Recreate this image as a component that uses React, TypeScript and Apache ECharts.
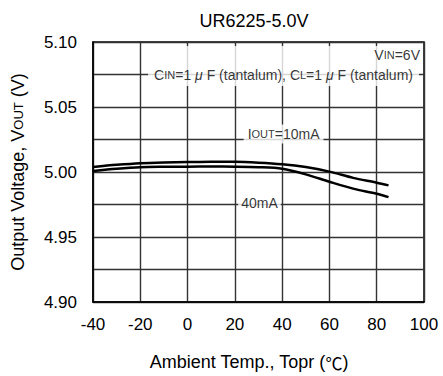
import React, { useEffect, useRef } from "react";
import * as echarts from "echarts";

// Ambient temperature (°C)
const tempC = [-40, -30, -20, -10, 0, 10, 20, 30, 40, 50, 60, 70, 80, 85];
// Output voltage (V) at IOUT = 10 mA
const vout10mA = [5.0038, 5.0055, 5.0068, 5.0074, 5.0077, 5.0078, 5.0078, 5.0072, 5.006, 5.0038, 5.0003, 4.9955, 4.9918, 4.9897];
// Output voltage (V) at IOUT = 40 mA
const vout40mA = [5.0008, 5.0025, 5.0037, 5.004, 5.0041, 5.0042, 5.0041, 5.0037, 5.0025, 4.9982, 4.9925, 4.9872, 4.9833, 4.9807];

const titleText = "UR6225-5.0V";
const xAxisName = "{a|Ambient Temp., Topr (}{c|℃}{a|)}";
const yAxisName = "{a|Output Voltage, V}{s|OUT}{a| (V)}";

const annoText = [
  "{a|C}{s|IN}{a|=1 }{m|μ}{a| F (tantalum), C}{s|L}{a|=1 }{m|μ}{a| F (tantalum)}",
  "{a|V}{s|IN}{a|=6V}",
  "{a|I}{s|OUT}{a|=10mA}",
  "{a|40mA}",
];
const annoX = [40.6, 98.3, 40.6, 30.4];
const annoY = [5.0815, 5.09, 5.0292, 4.9762];

const FONT = "'Liberation Sans', Arial, sans-serif";
const CJK = "'Noto Sans CJK JP', sans-serif";

const rich = {
  a: { fontSize: 14, fontFamily: FONT, color: "#000" },
  s: { fontSize: 11, fontFamily: FONT, color: "#000" },
  m: { fontSize: 14, fontFamily: FONT, color: "#000", fontStyle: "italic" as const },
};

export default function App() {
  const ref = useRef<HTMLDivElement>(null);
  useEffect(() => {
    if (!ref.current) return;
    const chart = echarts.init(ref.current, null, { renderer: "svg" });
    const paddings = [
      [22, 6, 4, 6],
      [0, 0, 0, 0],
      [2, 4, 3, 4],
      [1, 3, 1, 3],
    ];
    const annoData = annoX.map((x, i) => ({
      value: [x, annoY[i]],
      label: {
        show: true,
        position: i === 1 ? "left" : "inside",
        distance: 0,
        formatter: annoText[i],
        rich,
        backgroundColor: i === 1 ? "transparent" : "#fff",
        padding: paddings[i],
      },
    }));
    chart.setOption({
      animation: false,
      textStyle: { fontFamily: FONT },
      title: {
        text: titleText,
        left: 249,
        textAlign: "center",
        top: 7,
        textStyle: { fontSize: 18, fontWeight: "normal", color: "#000", fontFamily: FONT },
      },
      grid: {
        left: 93,
        right: 19,
        top: 42,
        bottom: 74,
        show: true,
        borderColor: "#000",
        borderWidth: 1.5,
        backgroundColor: "transparent",
      },
      xAxis: {
        type: "value",
        min: -40,
        max: 100,
        interval: 20,
        name: xAxisName,
        nameLocation: "middle",
        nameGap: 51,
        nameTextStyle: {
          padding: [0, 19, 0, 0],
          rich: {
            a: { fontSize: 18, color: "#000", fontFamily: FONT },
            c: { fontSize: 17, color: "#000", fontFamily: CJK },
          },
        },
        axisLine: { show: true, onZero: false, lineStyle: { color: "#000", width: 1.5 } },
        axisTick: { show: false },
        axisLabel: { fontSize: 17, color: "#000", margin: 14, fontFamily: FONT },
        splitLine: { show: true, lineStyle: { color: "#333", width: 1.4 } },
      },
      yAxis: {
        type: "value",
        min: 4.9,
        max: 5.1,
        interval: 0.05,
        name: yAxisName,
        nameLocation: "middle",
        nameGap: 66,
        nameTextStyle: {
          rich: {
            a: { fontSize: 18, color: "#000", fontFamily: FONT },
            s: { fontSize: 13, color: "#000", fontFamily: FONT },
          },
        },
        axisLine: { show: true, onZero: false, lineStyle: { color: "#000", width: 1.5 } },
        axisTick: { show: false },
        minorTick: { show: false, splitNumber: 2 },
        minorSplitLine: { show: true, lineStyle: { color: "#333", width: 1.4 } },
        axisLabel: {
          fontSize: 17,
          color: "#000",
          margin: 16,
          fontFamily: FONT,
          formatter: (v: number) => v.toFixed(2),
        },
        splitLine: { show: true, lineStyle: { color: "#333", width: 1.4 } },
      },
      series: [
        {
          name: "10mA",
          type: "line",
          data: tempC.map((t, i) => [t, vout10mA[i]]),
          smooth: 0.3,
          showSymbol: false,
          lineStyle: { color: "#000", width: 2.5 },
          z: 4,
        },
        {
          name: "40mA",
          type: "line",
          data: tempC.map((t, i) => [t, vout40mA[i]]),
          smooth: 0.3,
          showSymbol: false,
          lineStyle: { color: "#000", width: 2.5 },
          z: 4,
        },
        {
          name: "annotations",
          type: "scatter",
          symbolSize: 0,
          silent: true,
          data: annoData,
          z: 3,
        },
      ],
    });
    return () => chart.dispose();
  }, []);
  return (
    <div
      ref={ref}
      style={{ position: "absolute", left: 0, top: 0, width: 443, height: 376 }}
    />
  );
}
